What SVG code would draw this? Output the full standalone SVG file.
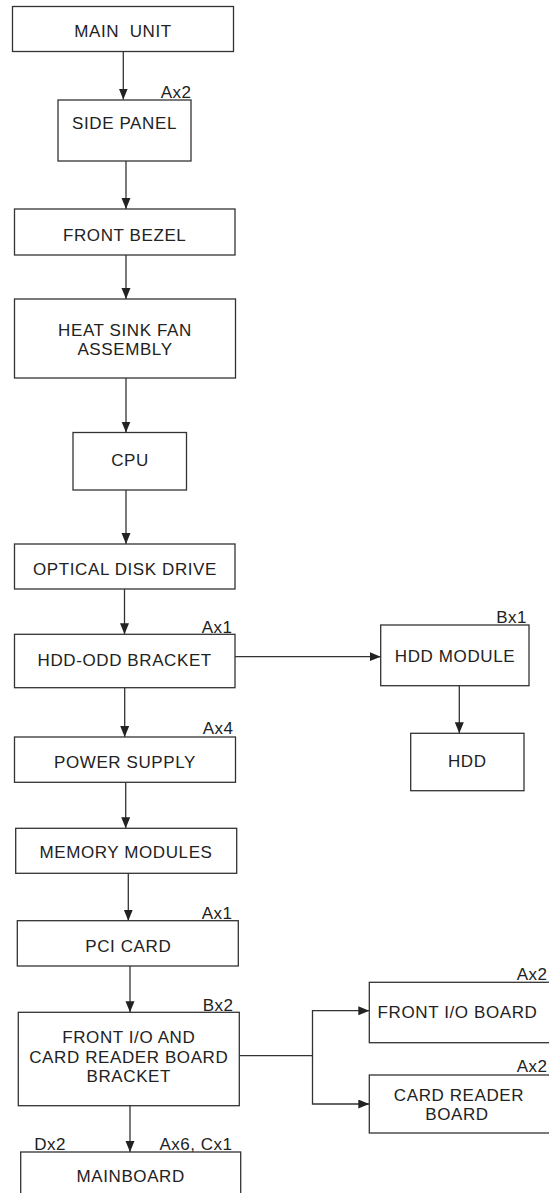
<svg xmlns="http://www.w3.org/2000/svg" width="549" height="1193" viewBox="0 0 549 1193">
<defs>
<style>
.box{fill:#fff;stroke:#333;stroke-width:1.3}
.t{font-family:"Liberation Sans",Arial,sans-serif;font-size:17px;fill:#222;text-anchor:middle;letter-spacing:0.6px;white-space:pre}
.l{font-family:"Liberation Sans",Arial,sans-serif;font-size:17px;fill:#222;letter-spacing:0.5px;white-space:pre}
.e{text-anchor:end}
.c{fill:none;stroke:#333;stroke-width:1.3}
</style>
<marker id="ah" markerUnits="userSpaceOnUse" markerWidth="12" markerHeight="10" refX="11" refY="4.5" orient="auto">
<path d="M0,0 L11,4.5 L0,9 z" fill="#222"/>
</marker>
</defs>
<rect width="549" height="1193" fill="#fff"/>
<g id="connectors">
<path class="c" d="M123.3,52 V99.5" marker-end="url(#ah)"/>
<path class="c" d="M126,161 V209" marker-end="url(#ah)"/>
<path class="c" d="M126,255 V299" marker-end="url(#ah)"/>
<path class="c" d="M126,378 V432.5" marker-end="url(#ah)"/>
<path class="c" d="M126,490 V544" marker-end="url(#ah)"/>
<path class="c" d="M124.5,589 V634.3" marker-end="url(#ah)"/>
<path class="c" d="M124.7,688 V737" marker-end="url(#ah)"/>
<path class="c" d="M125.7,782.3 V828.3" marker-end="url(#ah)"/>
<path class="c" d="M128.3,873.3 V920.7" marker-end="url(#ah)"/>
<path class="c" d="M130,966 V1012.3" marker-end="url(#ah)"/>
<path class="c" d="M130,1106 V1152" marker-end="url(#ah)"/>
<path class="c" d="M235,656.7 H380.7" marker-end="url(#ah)"/>
<path class="c" d="M459.3,686 V733.3" marker-end="url(#ah)"/>
<path class="c" d="M239.3,1055.7 H312.5 V1010.7 H369.3" marker-end="url(#ah)"/>
<path class="c" d="M312.5,1055.7 V1104 H369.3" marker-end="url(#ah)"/>
</g>
<g id="main-unit">
<rect class="box" x="12.5" y="6.5" width="221" height="45"/>
<text class="t" x="123" y="36.7">MAIN  UNIT</text>
</g>
<g id="side-panel">
<rect class="box" x="58" y="100" width="133" height="61"/>
<text class="t" x="124.5" y="129">SIDE PANEL</text>
<text class="l e" x="191.5" y="98">Ax2</text>
</g>
<g id="front-bezel">
<rect class="box" x="14.5" y="209" width="220.5" height="46"/>
<text class="t" x="124.7" y="240.7">FRONT BEZEL</text>
</g>
<g id="heat-sink">
<rect class="box" x="14.5" y="299" width="221" height="79"/>
<text class="t" x="125" y="336">HEAT SINK FAN</text>
<text class="t" x="125" y="355">ASSEMBLY</text>
</g>
<g id="cpu">
<rect class="box" x="73" y="432.5" width="113.5" height="57.5"/>
<text class="t" x="130" y="466">CPU</text>
</g>
<g id="odd">
<rect class="box" x="14.5" y="544" width="220.5" height="45"/>
<text class="t" x="125" y="575">OPTICAL DISK DRIVE</text>
</g>
<g id="hdd-odd-bracket">
<rect class="box" x="14.5" y="634.3" width="220.5" height="53.4"/>
<text class="t" x="124.7" y="665.7">HDD-ODD BRACKET</text>
<text class="l e" x="232.5" y="632.7">Ax1</text>
</g>
<g id="hdd-module">
<rect class="box" x="380.7" y="625" width="148.3" height="60.7"/>
<text class="t" x="455" y="661.7">HDD MODULE</text>
<text class="l e" x="527" y="623.3">Bx1</text>
</g>
<g id="hdd">
<rect class="box" x="410.7" y="733.3" width="113.3" height="57.4"/>
<text class="t" x="467.3" y="766.7">HDD</text>
</g>
<g id="power-supply">
<rect class="box" x="14.5" y="737" width="221" height="45.3"/>
<text class="t" x="125" y="768.3">POWER SUPPLY</text>
<text class="l e" x="233.5" y="734">Ax4</text>
</g>
<g id="memory">
<rect class="box" x="15.7" y="828.3" width="221" height="45"/>
<text class="t" x="126" y="858.3">MEMORY MODULES</text>
</g>
<g id="pci-card">
<rect class="box" x="17.3" y="920.7" width="221" height="45.3"/>
<text class="t" x="128.3" y="951.7">PCI CARD</text>
<text class="l e" x="232.5" y="918.7">Ax1</text>
</g>
<g id="fio-bracket">
<rect class="box" x="18.3" y="1012.3" width="221" height="93.4"/>
<text class="t" x="128.8" y="1043.3">FRONT I/O AND</text>
<text class="t" x="128.8" y="1062.7">CARD READER BOARD</text>
<text class="t" x="128.8" y="1081.7">BRACKET</text>
<text class="l e" x="233.5" y="1010.7">Bx2</text>
</g>
<g id="front-io-board">
<rect class="box" x="369.3" y="982.3" width="181" height="60.4"/>
<text class="t" x="457.5" y="1018.3">FRONT I/O BOARD</text>
<text class="l e" x="547.5" y="980">Ax2</text>
</g>
<g id="card-reader-board">
<rect class="box" x="369.3" y="1075" width="181" height="58"/>
<text class="t" x="459" y="1100.7">CARD READER</text>
<text class="t" x="457" y="1120">BOARD</text>
<text class="l e" x="547.5" y="1071.7">Ax2</text>
</g>
<g id="mainboard">
<rect class="box" x="20.7" y="1152" width="220" height="60"/>
<text class="t" x="130.7" y="1181.7">MAINBOARD</text>
<text class="l" x="34.3" y="1150">Dx2</text>
<text class="l e" x="232.5" y="1150">Ax6, Cx1</text>
</g>
</svg>
